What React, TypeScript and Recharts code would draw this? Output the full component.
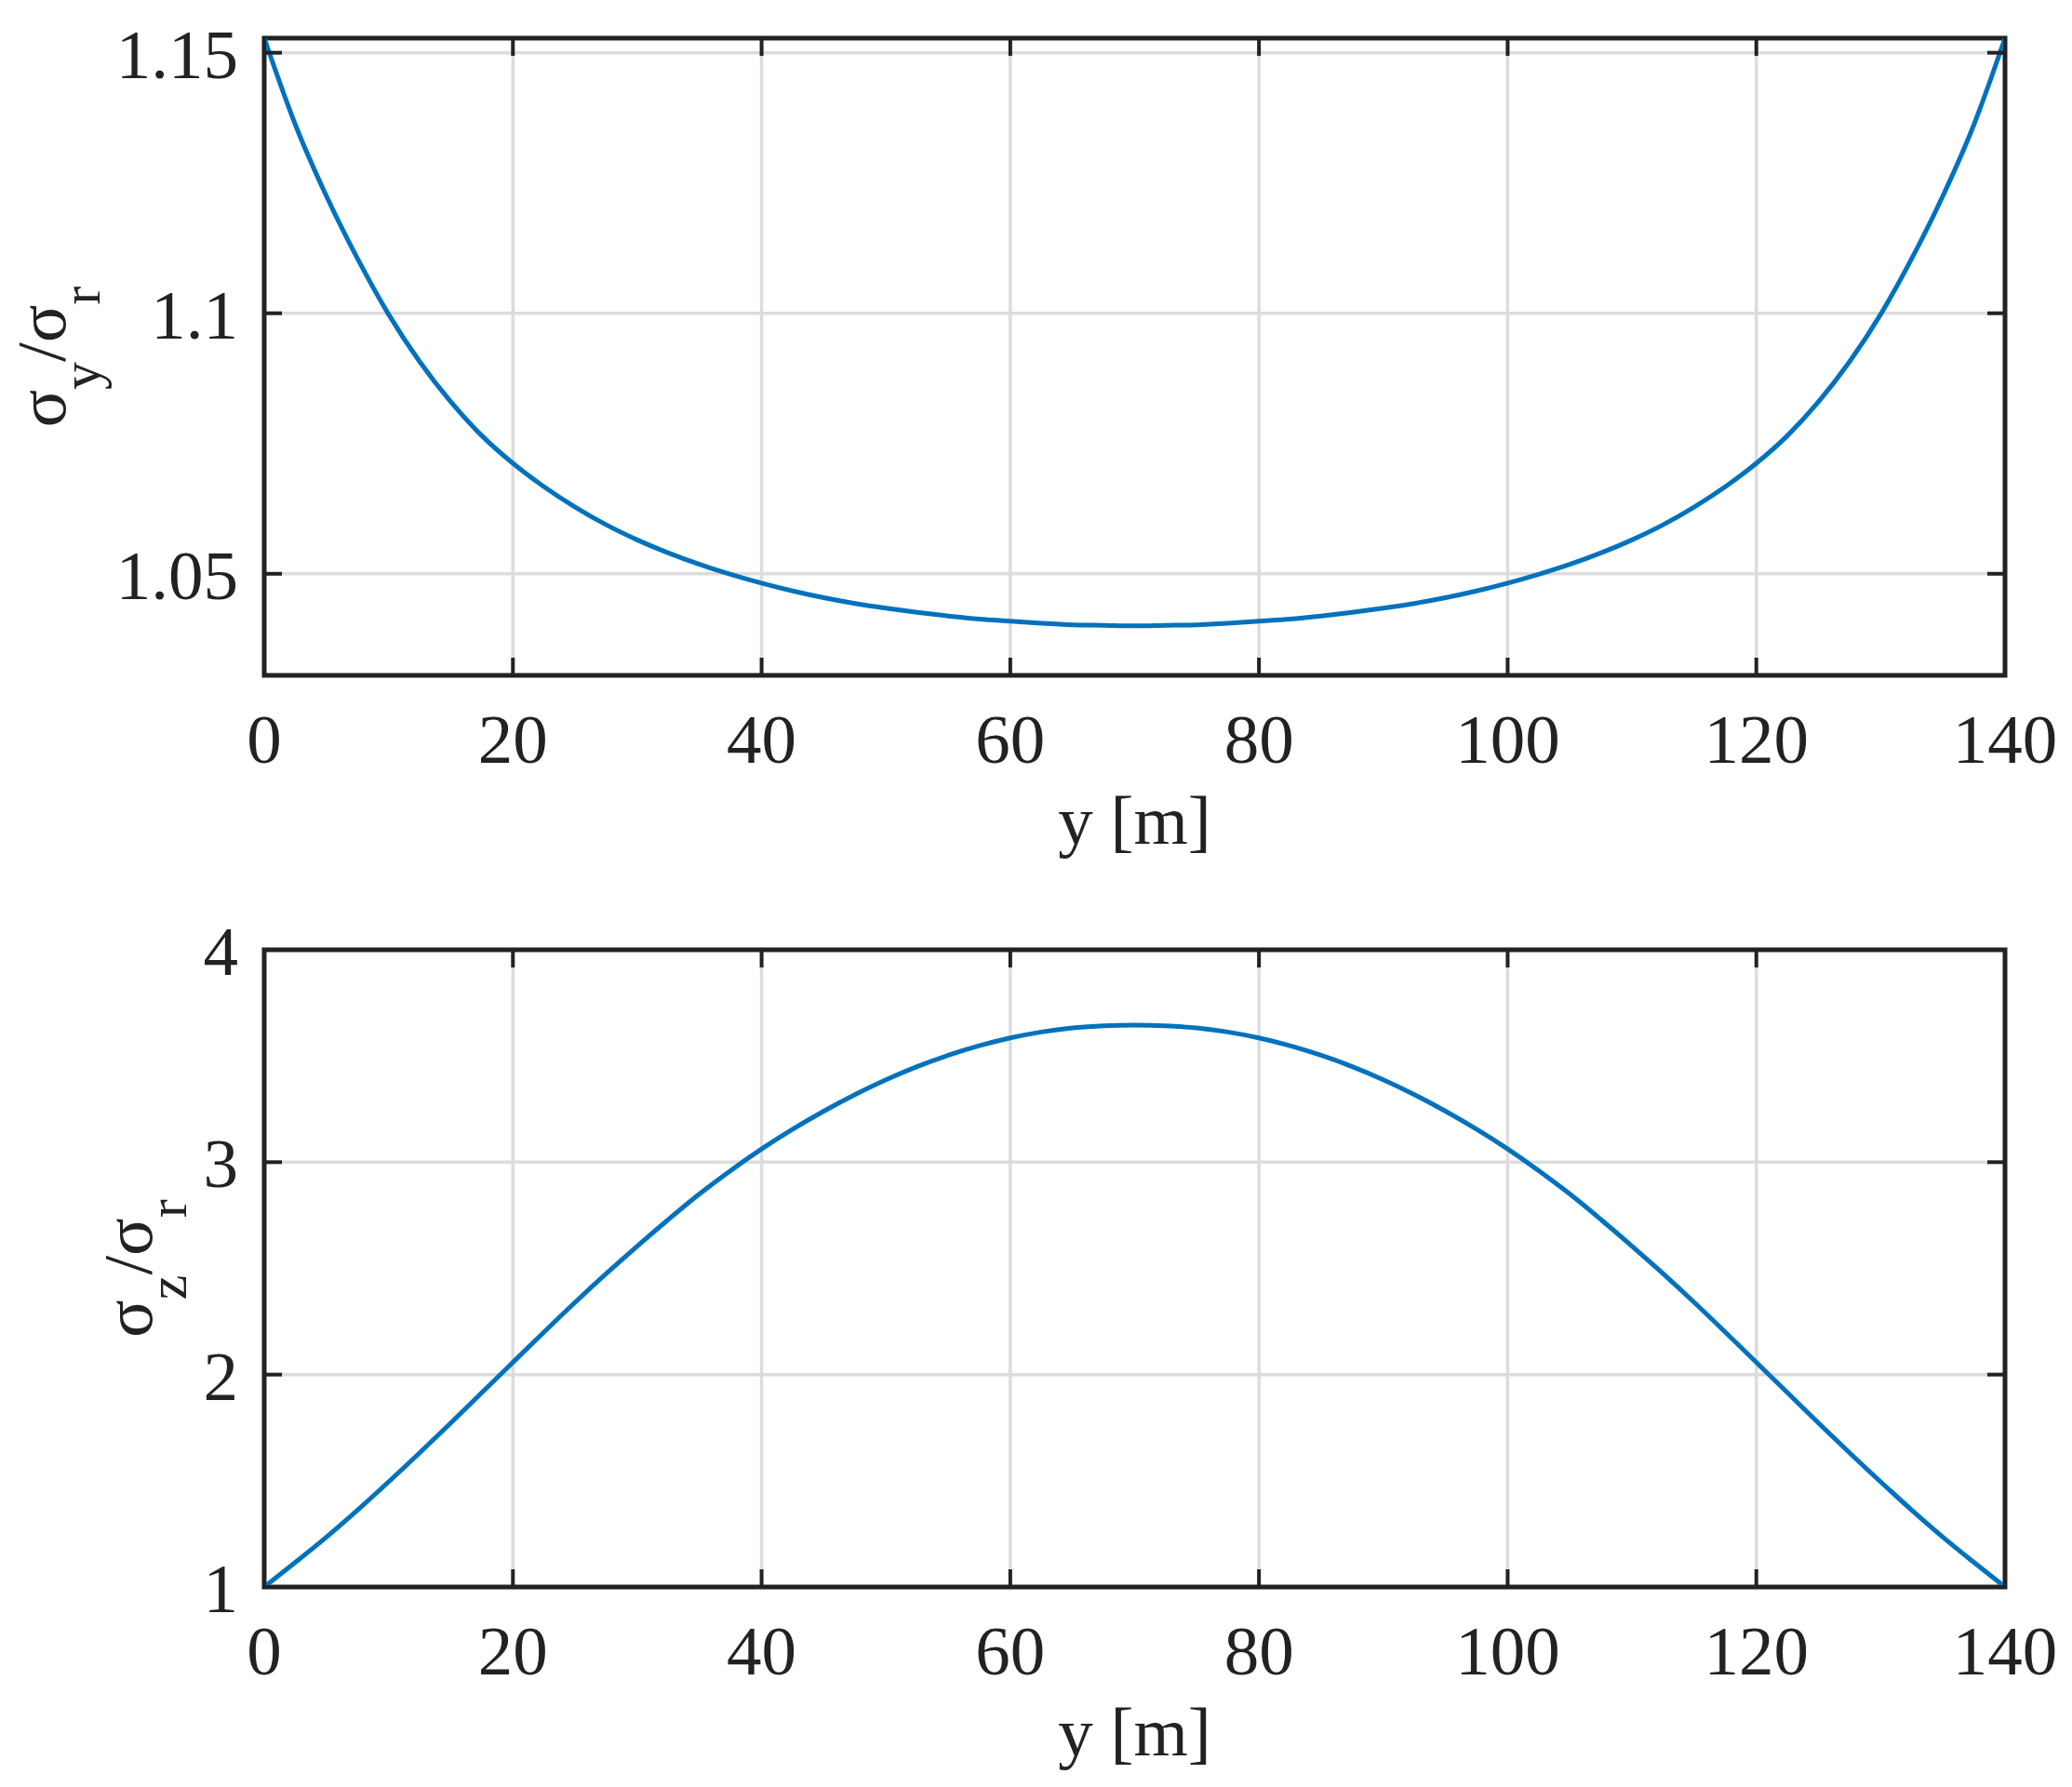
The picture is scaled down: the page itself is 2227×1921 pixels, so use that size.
import React from 'react';
import { LineChart, Line, XAxis, YAxis, CartesianGrid, ReferenceArea, Label } from 'recharts';

// distance along the span, y [m]
const positions = [
  0, 2.5, 5, 7.5, 10, 12.5, 15, 17.5, 20, 22.5, 25, 27.5, 30, 32.5, 35, 37.5, 40, 42.5, 45,
  47.5, 50, 52.5, 55, 57.5, 60, 62.5, 65, 67.5, 70, 72.5, 75, 77.5, 80, 82.5, 85, 87.5, 90,
  92.5, 95, 97.5, 100, 102.5, 105, 107.5, 110, 112.5, 115, 117.5, 120, 122.5, 125, 127.5,
  130, 132.5, 135, 137.5, 140,
];

// sigma_y / sigma_r (upper plot)
const sigmaYRatio = [
  1.1528, 1.1362, 1.1225, 1.1105, 1.0998, 1.0907, 1.083, 1.0765, 1.0712, 1.0667, 1.0628,
  1.0594, 1.0565, 1.054, 1.0518, 1.0499, 1.0482, 1.0467, 1.0454, 1.0443, 1.0434, 1.0426,
  1.0419, 1.0413, 1.0409, 1.0405, 1.0402, 1.0401, 1.04, 1.0401, 1.0402, 1.0405, 1.0409,
  1.0413, 1.0419, 1.0426, 1.0434, 1.0443, 1.0454, 1.0467, 1.0482, 1.0499, 1.0518, 1.054,
  1.0565, 1.0594, 1.0628, 1.0667, 1.0712, 1.0765, 1.083, 1.0907, 1.0998, 1.1105, 1.1225,
  1.1362, 1.1528,
];

// sigma_z / sigma_r (lower plot)
const sigmaZRatio = [
  1.0, 1.116, 1.235, 1.362, 1.495, 1.632, 1.772, 1.915, 2.058, 2.2, 2.34, 2.475, 2.605,
  2.73, 2.85, 2.96, 3.062, 3.155, 3.24, 3.318, 3.388, 3.45, 3.503, 3.548, 3.585, 3.613,
  3.632, 3.642, 3.645, 3.642, 3.632, 3.613, 3.585, 3.548, 3.503, 3.45, 3.388, 3.318, 3.24,
  3.155, 3.062, 2.96, 2.85, 2.73, 2.605, 2.475, 2.34, 2.2, 2.058, 1.915, 1.772, 1.632, 1.495,
  1.362, 1.235, 1.116, 1.0,
];

const xTicks = [0, 20, 40, 60, 80, 100, 120, 140];
const topYTicks = [1.05, 1.1, 1.15];
const topYDomain: [number, number] = [1.0305, 1.1528];
const bottomYTicks = [1, 2, 3, 4];
const bottomYDomain: [number, number] = [1, 4];

const topData = positions.map((y, i) => ({ y, v: sigmaYRatio[i] }));
const bottomData = positions.map((y, i) => ({ y, v: sigmaZRatio[i] }));

const W = 2227;
const PLOT_LEFT = 284;
const PLOT_RIGHT = 2155;
const PLOT_TOP = 41;
const PLOT_BOTTOM = 726;
const TICK_LEN = 19;
const AXIS = '#222222';
const GRID = '#dcdcdc';
const BLUE = '#0072BD';
const FONT = '"Liberation Serif", "Times New Roman", serif';
const FS = 75;

function XTick(props: any) {
  const { x, payload } = props;
  return (
    <g>
      <line x1={x} x2={x} y1={PLOT_BOTTOM} y2={PLOT_BOTTOM - TICK_LEN} stroke={AXIS} strokeWidth={4} />
      <line x1={x} x2={x} y1={PLOT_TOP} y2={PLOT_TOP + TICK_LEN} stroke={AXIS} strokeWidth={4} />
      <text x={x} y={PLOT_BOTTOM + 94} textAnchor="middle" fontSize={FS} fontFamily={FONT} fill={AXIS}>
        {payload.value}
      </text>
    </g>
  );
}

function YTick(props: any) {
  const { y, payload } = props;
  return (
    <g>
      <line x1={PLOT_LEFT} x2={PLOT_LEFT + TICK_LEN} y1={y} y2={y} stroke={AXIS} strokeWidth={4} />
      <line x1={PLOT_RIGHT} x2={PLOT_RIGHT - TICK_LEN} y1={y} y2={y} stroke={AXIS} strokeWidth={4} />
      <text x={PLOT_LEFT - 28} y={y + 27} textAnchor="end" fontSize={FS} fontFamily={FONT} fill={AXIS}>
        {String(payload.value)}
      </text>
    </g>
  );
}

function xLabel(props: any) {
  const vb = props.viewBox;
  return (
    <text x={vb.x + vb.width / 2} y={vb.y + 181} textAnchor="middle" fontSize={FS} fontFamily={FONT} fill={AXIS}>
      y [m]
    </text>
  );
}

function yLabel(sub: string, baseX: number) {
  return (props: any) => {
    const vb = props.viewBox;
    const cy = vb.y + vb.height / 2;
    return (
      <text
        x={baseX}
        y={cy}
        transform={`rotate(-90 ${baseX} ${cy})`}
        textAnchor="middle"
        fontSize={FS}
        fontFamily={FONT}
        fill={AXIS}
      >
        σ<tspan fontSize={60} dy={37}>{sub}</tspan>
        <tspan dy={-37}>/σ</tspan>
        <tspan fontSize={60} dy={37}>r</tspan>
      </text>
    );
  };
}

function Panel({ data, ticks, domain, height, sub, labelX }: any) {
  return (
    <LineChart
      width={W}
      height={height}
      data={data}
      margin={{ top: PLOT_TOP, right: W - PLOT_RIGHT, left: 0, bottom: 0 }}
    >
      <CartesianGrid stroke={GRID} strokeWidth={3.5} />
      <XAxis
        dataKey="y"
        type="number"
        domain={[0, 140]}
        ticks={xTicks}
        height={height - PLOT_BOTTOM}
        axisLine={false}
        tickLine={false}
        tick={<XTick />}
        interval={0}
      >
        <Label content={xLabel} />
      </XAxis>
      <YAxis
        type="number"
        domain={domain}
        ticks={ticks}
        width={PLOT_LEFT}
        allowDataOverflow
        axisLine={false}
        tickLine={false}
        tick={<YTick />}
        interval={0}
      >
        <Label content={yLabel(sub, labelX)} />
      </YAxis>
      <ReferenceArea
        x1={0}
        x2={140}
        y1={domain[0]}
        y2={domain[1]}
        fill="none"
        fillOpacity={0}
        stroke={AXIS}
        strokeWidth={5}
      />
      <Line
        type="monotone"
        dataKey="v"
        stroke={BLUE}
        strokeWidth={5}
        dot={false}
        activeDot={false}
        isAnimationActive={false}
      />
    </LineChart>
  );
}

export default function App() {
  return (
    <div style={{ position: 'absolute', left: 0, top: 0, width: W, height: 1921, background: '#fff' }}>
      <div style={{ position: 'absolute', left: 0, top: 0 }}>
        <Panel data={topData} ticks={topYTicks} domain={topYDomain} height={960} sub="y" labelX={70} />
      </div>
      <div style={{ position: 'absolute', left: 0, top: 980 }}>
        <Panel data={bottomData} ticks={bottomYTicks} domain={bottomYDomain} height={941} sub="z" labelX={163} />
      </div>
    </div>
  );
}
